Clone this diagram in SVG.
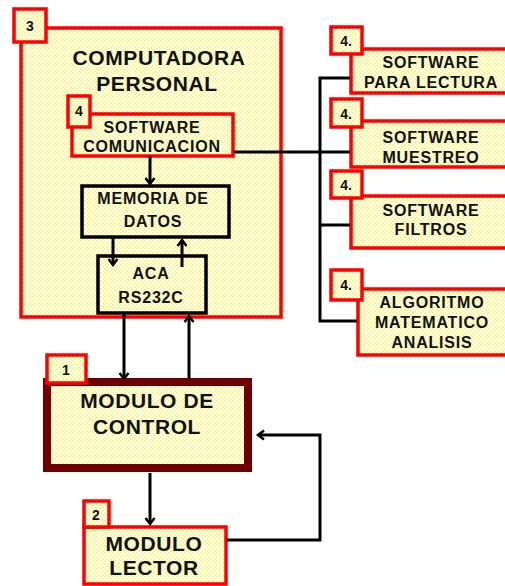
<svg xmlns="http://www.w3.org/2000/svg" width="505" height="586" viewBox="0 0 505 586">
<defs>
<pattern id="dots" width="4" height="4" patternUnits="userSpaceOnUse">
<rect width="4" height="4" fill="#fffff2"/>
<circle cx="1" cy="1" r="0.7" fill="#f2ea00"/>
<circle cx="3" cy="3" r="0.7" fill="#f2ea00"/>
</pattern>
<marker id="arr" markerUnits="userSpaceOnUse" markerWidth="12" markerHeight="12" viewBox="-7 -6 8 12" refX="0" refY="0" orient="auto">
<path d="M-6,-4.5 L0,0 L-6,4.5" fill="none" stroke="#000" stroke-width="2.5"/>
</marker>
</defs>
<style>
.red{fill:url(#dots);stroke:#ff0000;stroke-width:3.5}
.blk{fill:url(#dots);stroke:#000;stroke-width:3.5}
.ctl{fill:url(#dots);stroke:#700000;stroke-width:8}
.t{font-family:"Liberation Sans",Arial,sans-serif;font-weight:bold;fill:#111;text-anchor:middle}
.big{font-size:21px;letter-spacing:0.6px}
.sm{font-size:16px;letter-spacing:0.8px}
.num{font-size:14px}
.c{fill:none;stroke:#000;stroke-width:3}
</style>
<g id="node3">
<rect class="red" x="21" y="28" width="260" height="289"/>
<rect class="red" x="14" y="9" width="32" height="33"/>
<text class="t num" x="30" y="31">3</text>
<text class="t big" x="159" y="65">COMPUTADORA</text>
<text class="t big" x="157" y="91">PERSONAL</text>
</g>
<g id="node4com">
<rect class="red" x="72" y="114" width="161" height="42"/>
<rect class="red" x="68" y="96" width="22" height="31"/>
<text class="t num" x="79" y="116">4</text>
<text class="t sm" x="152" y="133">SOFTWARE</text>
<text class="t sm" x="152" y="152">COMUNICACION</text>
</g>
<g id="memoria">
<rect class="blk" x="82" y="186" width="147" height="51"/>
<text class="t sm" x="153" y="204">MEMORIA DE</text>
<text class="t sm" x="153" y="227">DATOS</text>
</g>
<g id="aca">
<rect class="blk" x="98" y="256" width="108" height="57"/>
<text class="t sm" x="151" y="279">ACA</text>
<text class="t sm" x="151" y="303">RS232C</text>
</g>
<g id="sw-lectura">
<rect class="red" x="351" y="49" width="160" height="44"/>
<rect class="red" x="331" y="27" width="31" height="27"/>
<text class="t num" x="346" y="46">4.</text>
<text class="t sm" x="431" y="68">SOFTWARE</text>
<text class="t sm" x="431" y="88">PARA LECTURA</text>
</g>
<g id="sw-muestreo">
<rect class="red" x="351" y="121" width="160" height="46"/>
<rect class="red" x="331" y="99" width="31" height="28"/>
<text class="t num" x="346" y="119">4.</text>
<text class="t sm" x="431" y="143">SOFTWARE</text>
<text class="t sm" x="431" y="163">MUESTREO</text>
</g>
<g id="sw-filtros">
<rect class="red" x="351" y="196" width="160" height="52"/>
<rect class="red" x="331" y="171" width="31" height="27"/>
<text class="t num" x="346" y="190">4.</text>
<text class="t sm" x="431" y="216">SOFTWARE</text>
<text class="t sm" x="431" y="235">FILTROS</text>
</g>
<g id="algoritmo">
<rect class="red" x="358" y="289" width="153" height="66"/>
<rect class="red" x="331" y="270" width="31" height="30"/>
<text class="t num" x="346" y="290">4.</text>
<text class="t sm" x="432" y="308">ALGORITMO</text>
<text class="t sm" x="432" y="328">MATEMATICO</text>
<text class="t sm" x="432" y="348">ANALISIS</text>
</g>
<g id="control">
<rect class="ctl" x="47" y="382" width="201" height="86"/>
<rect class="red" x="47" y="355" width="39" height="28"/>
<text class="t num" x="66" y="375">1</text>
<text class="t big" x="147" y="408">MODULO DE</text>
<text class="t big" x="147" y="434">CONTROL</text>
</g>
<g id="lector">
<rect class="red" x="84" y="527" width="142" height="57"/>
<rect class="red" x="84" y="501" width="25" height="26"/>
<text class="t num" x="96" y="520">2</text>
<text class="t big" x="154" y="551">MODULO</text>
<text class="t big" x="154" y="575">LECTOR</text>
</g>
<g id="connectors">
<line class="c" x1="150" y1="156" x2="150" y2="184" marker-end="url(#arr)"/>
<line class="c" x1="113" y1="238" x2="113" y2="265" marker-end="url(#arr)"/>
<line class="c" x1="182" y1="267" x2="182" y2="240" marker-end="url(#arr)"/>
<line class="c" x1="124" y1="314" x2="124" y2="379" marker-end="url(#arr)"/>
<line class="c" x1="189" y1="378" x2="189" y2="316" marker-end="url(#arr)"/>
<line class="c" x1="150" y1="473" x2="150" y2="524" marker-end="url(#arr)"/>
<polyline class="c" points="227,540 320,540 320,435 258,435" marker-end="url(#arr)"/>
<line class="c" x1="234" y1="152" x2="350" y2="152"/>
<polyline class="c" points="350,78 320,78 320,321 357,321"/>
<line class="c" x1="320" y1="225" x2="350" y2="225"/>
</g>
</svg>
